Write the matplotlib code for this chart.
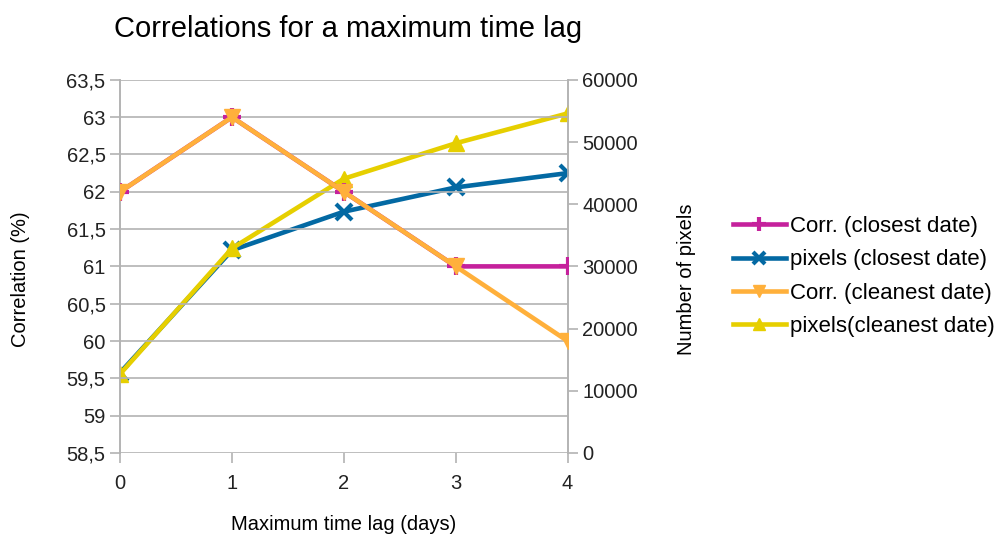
"""Correlations for a maximum time lag: dual-axis line chart."""

import matplotlib

matplotlib.use("Agg")
import matplotlib.pyplot as plt
from matplotlib.ticker import FuncFormatter, MultipleLocator

lags = [0, 1, 2, 3, 4]
corr_closest = [62, 63, 62, 61, 61]
corr_cleanest = [62, 63, 62, 61, 60]
pixels_closest = [12900, 32600, 38800, 42700, 45000]
pixels_cleanest = [12700, 32900, 44100, 49800, 54600]

plt.rcParams["font.family"] = ["Liberation Sans", "DejaVu Sans"]

GRID = "#b3b3b3"
fig = plt.figure(figsize=(10.01, 5.36), dpi=100)
ax = fig.add_axes([0.120, 0.155, 0.447, 0.696])
ax2 = ax.twinx()

lw = 3.3
h1, = ax.plot(lags, corr_closest, color="#c5219c", lw=lw, marker="+", ms=13, mew=3,
              label="Corr. (closest date)", zorder=3)
h3, = ax.plot(lags, corr_cleanest, color="#ffb03b", lw=lw, marker="v", ms=11,
              label="Corr. (cleanest date)", zorder=4)
h2, = ax2.plot(lags, pixels_closest, color="#0369a3", lw=lw, marker="x", ms=11, mew=3,
               label="pixels (closest date)", zorder=3)
h4, = ax2.plot(lags, pixels_cleanest, color="#e6cf00", lw=lw, marker="^", ms=11,
               label="pixels(cleanest date)", zorder=4)

# draw left-axis lines above the twin axis background
ax.set_zorder(ax2.get_zorder() + 1)
ax.patch.set_visible(False)

ax.set_xlim(0, 4)
ax.set_ylim(58.5, 63.5)
ax.yaxis.set_major_locator(MultipleLocator(0.5))
ax.yaxis.set_major_formatter(FuncFormatter(lambda v, _: f"{v:g}".replace(".", ",")))
ax.set_xticks(lags)
ax2.set_ylim(0, 60000)
ax2.yaxis.set_major_locator(MultipleLocator(10000))

ax.grid(axis="y", color=GRID, lw=1.2)
for a in (ax, ax2):
    for side in ("top", "bottom"):
        a.spines[side].set_visible(False)
    a.spines["left"].set_color(GRID)
    a.spines["right"].set_color(GRID)
    a.spines["left"].set_linewidth(1.2)
    a.spines["right"].set_linewidth(1.2)
    a.tick_params(colors=GRID, labelcolor="#222222", labelsize=14.5, length=7, width=1.2)
ax.tick_params(axis="x", pad=8)

ax.set_title("Correlations for a maximum time lag", fontsize=21, pad=31, x=0.51)
ax.set_xlabel("Maximum time lag (days)", fontsize=14.5, labelpad=16)
ax.set_ylabel("Correlation (%)", fontsize=14.5, labelpad=26, y=0.465)
ax2.set_ylabel("Number of pixels", fontsize=14.5, labelpad=28, y=0.465)

fig.legend(handles=[h1, h2, h3, h4], loc="center left", bbox_to_anchor=(0.723, 0.484),
           frameon=False, fontsize=16, handlelength=2.4, labelspacing=0.55,
           handletextpad=0.2, borderaxespad=0, markerscale=0.8)

fig.savefig("out.png", dpi=100)
